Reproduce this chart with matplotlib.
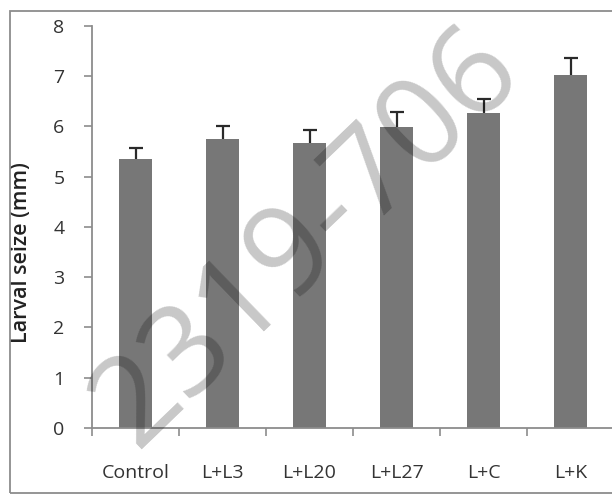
import matplotlib
matplotlib.use("Agg")
import matplotlib.pyplot as plt
from matplotlib.patches import Rectangle
import numpy as np

# 数据
groups = ["Control", "L+L3", "L+L20", "L+L27", "L+C", "L+K"]
larval_size = [5.34, 5.75, 5.66, 5.98, 6.26, 7.01]
size_err = [0.23, 0.25, 0.26, 0.31, 0.29, 0.35]
y_ticks = [0, 1, 2, 3, 4, 5, 6, 7, 8]

plt.rcParams["font.family"] = ["Open Sans", "DejaVu Sans"]

W, H = 612, 497
fig = plt.figure(figsize=(W / 100, H / 100), dpi=100)

# 坐标轴位置（像素换算）
left, right, top, bottom = 92, 614, 25.7, 428
ax = fig.add_axes([left / W, 1 - bottom / H, (right - left) / W, (bottom - top) / H])

x = np.arange(len(groups))
ax.errorbar(x, larval_size, yerr=size_err, fmt="none", ecolor="#2a2a2a",
            elinewidth=1.6, capsize=4.7, capthick=1.6, zorder=1)
ax.bar(x, larval_size, width=0.38, color="#777777", zorder=2)

ax.set_xlim(-0.5, len(groups) - 0.5)
ax.set_ylim(0, 8)

axis_col = "#8c8c8c"
for s in ["top", "right"]:
    ax.spines[s].set_visible(False)
for s in ["left", "bottom"]:
    ax.spines[s].set_color(axis_col)
    ax.spines[s].set_linewidth(1.3)

ax.set_yticks(y_ticks)
ax.set_xticks(x)
ax.set_xticklabels(groups)
ax.set_xticks(np.arange(len(groups) + 1) - 0.5, minor=True)

ax.tick_params(axis="y", length=5.8, width=1.2, color=axis_col, pad=14,
               labelsize=14, labelcolor="#333333")
ax.tick_params(axis="x", which="major", length=0, pad=26,
               labelsize=14, labelcolor="#333333")
ax.tick_params(axis="x", which="minor", length=5.8, width=1.2, color=axis_col)

ax.set_ylabel("Larval seize (mm)", fontsize=15.5, fontweight="semibold",
              color="#222222")
ax.yaxis.set_label_coords(-0.115, 0.435)

# 水印
fig.text(136 / W, 1 - 449 / H, "2319-706", fontsize=90, rotation=44,
         color="black", alpha=0.22, ha="left", va="baseline",
         rotation_mode="anchor", zorder=5)

# 图表外框
fig.patches.append(Rectangle((10 / W, 1 - 493 / H), 1.2, (493 - 10.5) / H,
                             transform=fig.transFigure, fill=False,
                             edgecolor=axis_col, linewidth=1.3))

fig.savefig("out.png", dpi=100)
